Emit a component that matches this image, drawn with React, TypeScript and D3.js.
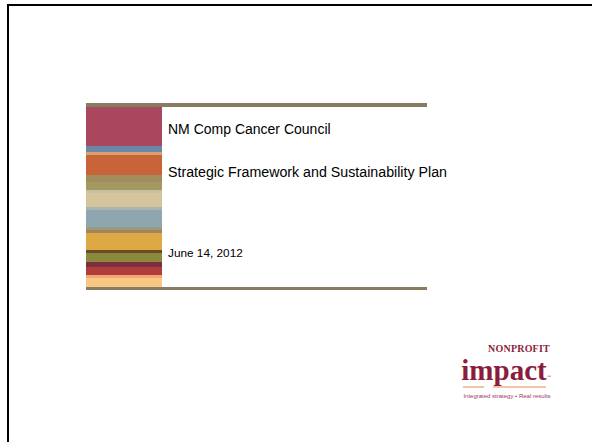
import React from "react";
import { scaleLinear } from "d3";

// title slide text
const titleLines = ["NM Comp Cancer Council", "Strategic Framework and Sustainability Plan", "June 14, 2012"];

// colour bands of the left block, top to bottom (band edges in block units)
const bandEdges = [0, 39, 45, 48, 68, 75, 83, 86, 100, 103, 120, 123, 126, 143, 146, 155, 160, 168, 171, 180];
const bandColors = [
  "#a8475d", "#6b86a6", "#d8a06e", "#c9643a", "#a08c5c", "#a39a62", "#c8bfa0",
  "#d5c59c", "#a9b4b0", "#8fa6b0", "#9a9a80", "#a4825a", "#dca944", "#6a4a2a",
  "#8b8a3c", "#7c2e3e", "#b03c3c", "#f0a870", "#f8c784",
];

const logoWords = ["NONPROFIT", "impact", "Integrated strategy • Real results"];

export default function App() {
  const W = 592;
  const H = 442;
  const x0 = 86;
  const x1 = 162;
  const lineEnd = 427;
  const y = scaleLinear().domain([0, 180]).range([107, 287]);

  return (
    <svg
      width={W}
      height={H}
      style={{ position: "absolute", left: 0, top: 0, background: "#fff" }}
    >
      {/* slide border */}
      <line x1={7} y1={5} x2={W} y2={5} stroke="#000" strokeWidth={2} />
      <line x1={8} y1={5} x2={8} y2={H} stroke="#000" strokeWidth={2} />

      {/* stripes */}
      {bandColors.map((c, i) => (
        <rect
          key={i}
          x={x0}
          y={y(bandEdges[i])}
          width={x1 - x0}
          height={y(bandEdges[i + 1]) - y(bandEdges[i])}
          fill={c}
        />
      ))}
      <rect x={x0} y={103} width={lineEnd - x0} height={4} fill="#877c60" />
      <rect x={x0} y={287} width={lineEnd - x0} height={3} fill="#877c60" />

      <g fontFamily="Liberation Sans, Arial, sans-serif" fill="#000">
        <text x={168} y={134} fontSize={14}>{titleLines[0]}</text>
        <text x={168} y={177} fontSize={14} textLength={279} lengthAdjust="spacingAndGlyphs">{titleLines[1]}</text>
        <text x={168} y={257} fontSize={11.8}>{titleLines[2]}</text>
      </g>

      {/* logo */}
      <g fontFamily="Liberation Serif, Times New Roman, serif" fill="#8c1c3c">
        <text x={519} y={352} fontSize={10} fontWeight="bold" textAnchor="middle" letterSpacing={0.2}>
          {logoWords[0]}
        </text>
        <text x={504} y={380} fontSize={29} fontWeight="bold" textAnchor="middle">
          {logoWords[1]}
        </text>
        <text x={547} y={378} fontSize={4}>™</text>
        <line x1={463} y1={387} x2={484} y2={387} stroke="#e08a50" strokeWidth={1} />
        <line x1={493} y1={387} x2={546} y2={387} stroke="#e08a50" strokeWidth={1} />
        <text x={507} y={398} fontSize={6} fill="#9a3a6a" textAnchor="middle" fontFamily="Liberation Sans, Arial, sans-serif">
          {logoWords[2]}
        </text>
      </g>
    </svg>
  );
}
